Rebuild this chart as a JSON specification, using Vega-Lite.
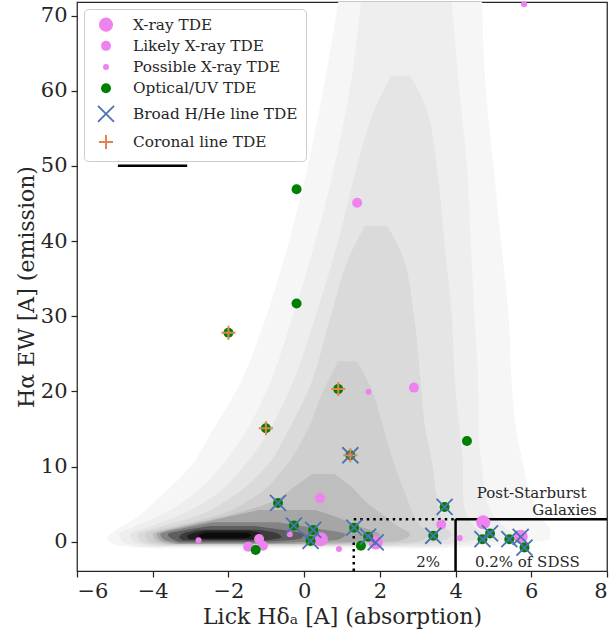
{
  "$schema": "https://vega.github.io/schema/vega-lite/v6.json",
  "width": 530,
  "height": 569,
  "autosize": {"type": "none"},
  "padding": {"left": 77, "top": 2, "right": 4, "bottom": 65},
  "config": {
    "font": "DejaVu Serif",
    "view": {"stroke": "#262626", "strokeWidth": 1.25},
    "axis": {"grid": false, "domain": false, "tickColor": "#262626", "tickSize": 6, "tickWidth": 1.25, "labelFont": "DejaVu Serif", "labelFontSize": 21, "labelColor": "#262626", "titleFont": "DejaVu Serif", "titleFontSize": 22, "titleFontWeight": "normal", "titleColor": "#262626"},
    "legend": {"orient": "top-left", "offset": 7, "padding": 8, "fillColor": "rgba(255,255,255,0.8)", "strokeColor": "#cccccc", "cornerRadius": 4, "labelFont": "DejaVu Serif", "labelFontSize": 15.3, "labelColor": "#262626", "labelLimit": 400, "rowPadding": 5.2, "labelOffset": 18, "symbolOffset": 5}
  },
  "datasets": {
    "bg": [
      {"lev":0.03,"y":-0.9,"xl":-4.0,"xr":3.5},{"lev":0.03,"y":-0.4,"xl":-5.0,"xr":5.5},{"lev":0.03,"y":0.5,"xl":-5.2,"xr":6.5},{"lev":0.03,"y":1.5,"xl":-5.0,"xr":6.5},{"lev":0.03,"y":3,"xl":-4.5,"xr":6.3},{"lev":0.03,"y":6,"xl":-3.8,"xr":6.0},{"lev":0.03,"y":10,"xl":-3.0,"xr":5.8},{"lev":0.03,"y":15,"xl":-2.4,"xr":5.6},{"lev":0.03,"y":20,"xl":-1.8,"xr":5.5},{"lev":0.03,"y":30,"xl":-1.0,"xr":5.4},{"lev":0.03,"y":40,"xl":-0.4,"xr":5.2},{"lev":0.03,"y":50,"xl":0.1,"xr":5.0},{"lev":0.03,"y":60,"xl":0.5,"xr":4.8},{"lev":0.03,"y":71.8,"xl":0.9,"xr":4.7},
      {"lev":0.06,"y":-0.7,"xl":-4.3,"xr":3.5},{"lev":0.06,"y":0,"xl":-4.8,"xr":5.0},{"lev":0.06,"y":1,"xl":-4.9,"xr":5.5},{"lev":0.06,"y":2,"xl":-4.5,"xr":5.3},{"lev":0.06,"y":3.5,"xl":-3.8,"xr":5.0},{"lev":0.06,"y":6,"xl":-3.0,"xr":4.8},{"lev":0.06,"y":10,"xl":-2.2,"xr":4.7},{"lev":0.06,"y":15,"xl":-1.5,"xr":4.6},{"lev":0.06,"y":20,"xl":-1.0,"xr":4.6},{"lev":0.06,"y":30,"xl":-0.3,"xr":4.5},{"lev":0.06,"y":40,"xl":0.3,"xr":4.4},{"lev":0.06,"y":50,"xl":0.8,"xr":4.3},{"lev":0.06,"y":60,"xl":1.2,"xr":4.1},{"lev":0.06,"y":71.8,"xl":1.5,"xr":3.9},
      {"lev":0.09,"y":-0.6,"xl":-4.0,"xr":3.0},{"lev":0.09,"y":0,"xl":-4.5,"xr":4.3},{"lev":0.09,"y":1,"xl":-4.6,"xr":4.7},{"lev":0.09,"y":2,"xl":-4.1,"xr":4.5},{"lev":0.09,"y":3.5,"xl":-3.3,"xr":4.3},{"lev":0.09,"y":6,"xl":-2.4,"xr":4.2},{"lev":0.09,"y":10,"xl":-1.6,"xr":4.2},{"lev":0.09,"y":15,"xl":-0.9,"xr":4.1},{"lev":0.09,"y":20,"xl":-0.4,"xr":4.0},{"lev":0.09,"y":30,"xl":0.3,"xr":3.9},{"lev":0.09,"y":40,"xl":0.9,"xr":3.7},{"lev":0.09,"y":50,"xl":1.4,"xr":3.5},{"lev":0.09,"y":58,"xl":1.9,"xr":3.2},{"lev":0.09,"y":62,"xl":2.3,"xr":2.8},
      {"lev":0.13,"y":-0.5,"xl":-3.8,"xr":2.2},{"lev":0.13,"y":0,"xl":-4.3,"xr":3.6},{"lev":0.13,"y":1,"xl":-4.4,"xr":3.9},{"lev":0.13,"y":2,"xl":-3.8,"xr":3.7},{"lev":0.13,"y":3.5,"xl":-2.8,"xr":3.6},{"lev":0.13,"y":6,"xl":-1.9,"xr":3.5},{"lev":0.13,"y":10,"xl":-1.0,"xr":3.4},{"lev":0.13,"y":15,"xl":-0.4,"xr":3.2},{"lev":0.13,"y":20,"xl":0.1,"xr":3.1},{"lev":0.13,"y":30,"xl":0.7,"xr":2.9},{"lev":0.13,"y":38,"xl":1.2,"xr":2.6},{"lev":0.13,"y":42,"xl":1.6,"xr":2.2},
      {"lev":0.17,"y":-0.4,"xl":-3.6,"xr":1.2},{"lev":0.17,"y":0,"xl":-4.1,"xr":3.0},{"lev":0.17,"y":1,"xl":-4.2,"xr":3.3},{"lev":0.17,"y":2,"xl":-3.5,"xr":3.1},{"lev":0.17,"y":3.5,"xl":-2.3,"xr":2.9},{"lev":0.17,"y":6,"xl":-1.3,"xr":2.7},{"lev":0.17,"y":10,"xl":-0.5,"xr":2.4},{"lev":0.17,"y":15,"xl":0.1,"xr":2.1},{"lev":0.17,"y":20,"xl":0.5,"xr":1.8},{"lev":0.17,"y":24,"xl":0.9,"xr":1.4},
      {"lev":0.23,"y":-0.35,"xl":-3.5,"xr":0.5},{"lev":0.23,"y":0.1,"xl":-3.9,"xr":2.5},{"lev":0.23,"y":1,"xl":-4.0,"xr":2.8},{"lev":0.23,"y":2,"xl":-3.3,"xr":2.5},{"lev":0.23,"y":3.5,"xl":-2.0,"xr":2.1},{"lev":0.23,"y":5,"xl":-1.0,"xr":1.7},{"lev":0.23,"y":7.5,"xl":-0.2,"xr":1.2},{"lev":0.23,"y":9,"xl":0.2,"xr":0.8},
      {"lev":0.32,"y":-0.3,"xl":-3.4,"xr":-0.3},{"lev":0.32,"y":0.2,"xl":-3.8,"xr":1.8},{"lev":0.32,"y":1,"xl":-3.9,"xr":2.0},{"lev":0.32,"y":2,"xl":-3.2,"xr":1.5},{"lev":0.32,"y":3,"xl":-2.3,"xr":1.0},{"lev":0.32,"y":4.2,"xl":-1.2,"xr":0.3},
      {"lev":0.45,"y":-0.2,"xl":-3.3,"xr":-0.8},{"lev":0.45,"y":0.3,"xl":-3.7,"xr":0.9},{"lev":0.45,"y":1.0,"xl":-3.8,"xr":1.1},{"lev":0.45,"y":1.8,"xl":-3.2,"xr":0.3},{"lev":0.45,"y":2.6,"xl":-2.4,"xr":-0.7},
      {"lev":0.6,"y":0.0,"xl":-3.3,"xr":-1.0},{"lev":0.6,"y":0.4,"xl":-3.5,"xr":-0.1},{"lev":0.6,"y":1.0,"xl":-3.6,"xr":0.0},{"lev":0.6,"y":1.6,"xl":-3.1,"xr":-0.6},{"lev":0.6,"y":2.1,"xl":-2.5,"xr":-1.3},
      {"lev":0.75,"y":0.2,"xl":-3.2,"xr":-1.0},{"lev":0.75,"y":0.6,"xl":-3.3,"xr":-0.6},{"lev":0.75,"y":1.1,"xl":-3.2,"xr":-0.7},{"lev":0.75,"y":1.6,"xl":-2.8,"xr":-1.2},
      {"lev":0.88,"y":0.3,"xl":-3.0,"xr":-1.3},{"lev":0.88,"y":0.7,"xl":-3.1,"xr":-1.1},{"lev":0.88,"y":1.2,"xl":-2.9,"xr":-1.2},{"lev":0.88,"y":1.5,"xl":-2.6,"xr":-1.5},
      {"lev":0.97,"y":0.45,"xl":-2.7,"xr":-1.6},{"lev":0.97,"y":0.8,"xl":-2.8,"xr":-1.4},{"lev":0.97,"y":1.2,"xl":-2.6,"xr":-1.5}
    ],
    "tde": [
      {"cat":"X-ray TDE","x":0.44,"y":0.33},
      {"cat":"X-ray TDE","x":1.89,"y":-0.1},
      {"cat":"X-ray TDE","x":4.73,"y":2.58},
      {"cat":"X-ray TDE","x":5.72,"y":0.65},
      {"cat":"Likely X-ray TDE","x":1.40,"y":45.1},
      {"cat":"Likely X-ray TDE","x":2.90,"y":20.5},
      {"cat":"Likely X-ray TDE","x":0.42,"y":5.8},
      {"cat":"Likely X-ray TDE","x":-1.48,"y":-0.67},
      {"cat":"Likely X-ray TDE","x":-1.09,"y":-0.53},
      {"cat":"Likely X-ray TDE","x":-1.19,"y":0.36},
      {"cat":"Likely X-ray TDE","x":3.62,"y":2.28},
      {"cat":"Possible X-ray TDE","x":5.81,"y":71.5},
      {"cat":"Possible X-ray TDE","x":1.70,"y":19.96},
      {"cat":"Possible X-ray TDE","x":-2.79,"y":0.2},
      {"cat":"Possible X-ray TDE","x":-0.38,"y":0.98},
      {"cat":"Possible X-ray TDE","x":0.92,"y":-0.97},
      {"cat":"Possible X-ray TDE","x":4.11,"y":0.48},
      {"cat":"Optical/UV TDE","x":-0.20,"y":46.9},
      {"cat":"Optical/UV TDE","x":-0.20,"y":31.7},
      {"cat":"Optical/UV TDE","x":-2.00,"y":27.8},
      {"cat":"Optical/UV TDE","x":0.90,"y":20.3},
      {"cat":"Optical/UV TDE","x":-1.01,"y":15.1},
      {"cat":"Optical/UV TDE","x":1.22,"y":11.5},
      {"cat":"Optical/UV TDE","x":4.30,"y":13.4},
      {"cat":"Optical/UV TDE","x":-0.69,"y":5.15},
      {"cat":"Optical/UV TDE","x":3.71,"y":4.62},
      {"cat":"Optical/UV TDE","x":-0.27,"y":2.14},
      {"cat":"Optical/UV TDE","x":0.24,"y":1.56},
      {"cat":"Optical/UV TDE","x":0.17,"y":0.1},
      {"cat":"Optical/UV TDE","x":1.32,"y":1.86},
      {"cat":"Optical/UV TDE","x":1.69,"y":0.67},
      {"cat":"Optical/UV TDE","x":1.50,"y":-0.53},
      {"cat":"Optical/UV TDE","x":-1.28,"y":-1.1},
      {"cat":"Optical/UV TDE","x":3.41,"y":0.79},
      {"cat":"Optical/UV TDE","x":4.71,"y":0.33},
      {"cat":"Optical/UV TDE","x":4.91,"y":1.1},
      {"cat":"Optical/UV TDE","x":5.42,"y":0.33},
      {"cat":"Optical/UV TDE","x":5.82,"y":-0.78},
      {"cat":"Broad H/He line TDE","x":1.22,"y":11.5},
      {"cat":"Broad H/He line TDE","x":-0.69,"y":5.15},
      {"cat":"Broad H/He line TDE","x":3.71,"y":4.62},
      {"cat":"Broad H/He line TDE","x":-0.27,"y":2.14},
      {"cat":"Broad H/He line TDE","x":0.24,"y":1.56},
      {"cat":"Broad H/He line TDE","x":0.17,"y":0.1},
      {"cat":"Broad H/He line TDE","x":1.32,"y":1.86},
      {"cat":"Broad H/He line TDE","x":1.69,"y":0.67},
      {"cat":"Broad H/He line TDE","x":1.89,"y":-0.1},
      {"cat":"Broad H/He line TDE","x":3.41,"y":0.79},
      {"cat":"Broad H/He line TDE","x":4.71,"y":0.33},
      {"cat":"Broad H/He line TDE","x":4.91,"y":1.1},
      {"cat":"Broad H/He line TDE","x":5.42,"y":0.33},
      {"cat":"Broad H/He line TDE","x":5.72,"y":0.65},
      {"cat":"Broad H/He line TDE","x":5.82,"y":-0.78},
      {"cat":"Coronal line TDE","x":-2.00,"y":27.8},
      {"cat":"Coronal line TDE","x":0.90,"y":20.3},
      {"cat":"Coronal line TDE","x":-1.01,"y":15.1},
      {"cat":"Coronal line TDE","x":1.22,"y":11.5}
    ],
    "dotted": [
      {"x":1.31,"x2":1.31,"y":-3.9,"y2":3},
      {"x":1.31,"x2":4,"y":3,"y2":3}
    ],
    "solid": [
      {"x":4,"x2":4,"y":-3.9,"y2":3},
      {"x":4,"x2":8,"y":3,"y2":3},
      {"x":-4.92,"x2":-3.09,"y":50,"y2":50}
    ],
    "textR": [
      {"x":7.46,"y":5.81,"t":"Post-Starburst"},
      {"x":7.73,"y":3.55,"t":"Galaxies"},
      {"x":3.59,"y":-3.37,"t":"2%"}
    ],
    "textL": [
      {"x":4.51,"y":-3.37,"t":"0.2% of SDSS"}
    ]
  },
  "layer": [
    {
      "data": {"name": "bg"},
      "mark": {"type": "area", "orient": "horizontal", "interpolate": "monotone", "clip": true},
      "encoding": {
        "y": {"field": "y", "type": "quantitative", "scale": {"domain": [-3.9, 71.8], "nice": false, "zero": false}, "axis": {"values": [0, 10, 20, 30, 40, 50, 60, 70], "labelPadding": 4, "titlePadding": 2}, "title": "Hα EW [A] (emission)"},
        "x": {"field": "xl", "type": "quantitative", "stack": null, "scale": {"domain": [-6, 8], "nice": false, "zero": false}, "axis": {"values": [-6, -4, -2, 0, 2, 4, 6, 8], "labelPadding": 3, "titlePadding": 5}, "title": "Lick Hδₐ [A] (absorption)"},
        "x2": {"field": "xr"},
        "detail": {"field": "lev", "type": "nominal"},
        "color": {"field": "lev", "type": "quantitative", "scale": {"domain": [0, 1], "range": ["#ffffff", "#000000"]}, "legend": null}
      }
    },
    {
      "data": {"name": "dotted"},
      "mark": {"type": "rule", "color": "black", "strokeWidth": 2.5, "strokeDash": [2.5, 4], "clip": true},
      "encoding": {
        "x": {"field": "x", "type": "quantitative", "title": "Lick Hδₐ [A] (absorption)"},
        "x2": {"field": "x2"},
        "y": {"field": "y", "type": "quantitative", "title": "Hα EW [A] (emission)"},
        "y2": {"field": "y2"}
      }
    },
    {
      "data": {"name": "solid"},
      "mark": {"type": "rule", "color": "black", "strokeWidth": 2.5, "clip": true},
      "encoding": {
        "x": {"field": "x", "type": "quantitative", "title": "Lick Hδₐ [A] (absorption)"},
        "x2": {"field": "x2"},
        "y": {"field": "y", "type": "quantitative", "title": "Hα EW [A] (emission)"},
        "y2": {"field": "y2"}
      }
    },
    {
      "data": {"name": "tde"},
      "mark": {"type": "point", "filled": true, "opacity": 1},
      "encoding": {
        "x": {"field": "x", "type": "quantitative", "title": "Lick Hδₐ [A] (absorption)"},
        "y": {"field": "y", "type": "quantitative", "title": "Hα EW [A] (emission)"},
        "fill": {"field": "cat", "type": "nominal", "title": null, "scale": {"domain": ["X-ray TDE", "Likely X-ray TDE", "Possible X-ray TDE", "Optical/UV TDE", "Broad H/He line TDE", "Coronal line TDE"], "range": ["violet", "violet", "violet", "green", "transparent", "transparent"]}},
        "stroke": {"field": "cat", "type": "nominal", "title": null, "scale": {"domain": ["X-ray TDE", "Likely X-ray TDE", "Possible X-ray TDE", "Optical/UV TDE", "Broad H/He line TDE", "Coronal line TDE"], "range": ["violet", "violet", "violet", "green", "#4C72B0", "#DD8452"]}},
        "shape": {"field": "cat", "type": "nominal", "title": null, "scale": {"domain": ["X-ray TDE", "Likely X-ray TDE", "Possible X-ray TDE", "Optical/UV TDE", "Broad H/He line TDE", "Coronal line TDE"], "range": ["circle", "circle", "circle", "circle", "M-1,-1L1,1M-1,1L1,-1", "M-1,0L1,0M0,-1L0,1"]}},
        "size": {"field": "cat", "type": "nominal", "title": null, "scale": {"type": "ordinal", "domain": ["X-ray TDE", "Likely X-ray TDE", "Possible X-ray TDE", "Optical/UV TDE", "Broad H/He line TDE", "Coronal line TDE"], "range": [200, 100, 36, 100, 256, 196]}},
        "strokeWidth": {"field": "cat", "type": "nominal", "title": null, "scale": {"type": "ordinal", "domain": ["X-ray TDE", "Likely X-ray TDE", "Possible X-ray TDE", "Optical/UV TDE", "Broad H/He line TDE", "Coronal line TDE"], "range": [0, 0, 0, 0, 1.8, 2]}}
      }
    },
    {
      "data": {"name": "textR"},
      "mark": {"type": "text", "align": "right", "baseline": "alphabetic", "fontSize": 15, "color": "#262626", "font": "DejaVu Serif"},
      "encoding": {
        "x": {"field": "x", "type": "quantitative", "title": "Lick Hδₐ [A] (absorption)"},
        "y": {"field": "y", "type": "quantitative", "title": "Hα EW [A] (emission)"},
        "text": {"field": "t"}
      }
    },
    {
      "data": {"name": "textL"},
      "mark": {"type": "text", "align": "left", "baseline": "alphabetic", "fontSize": 15, "color": "#262626", "font": "DejaVu Serif"},
      "encoding": {
        "x": {"field": "x", "type": "quantitative", "title": "Lick Hδₐ [A] (absorption)"},
        "y": {"field": "y", "type": "quantitative", "title": "Hα EW [A] (emission)"},
        "text": {"field": "t"}
      }
    }
  ]
}
